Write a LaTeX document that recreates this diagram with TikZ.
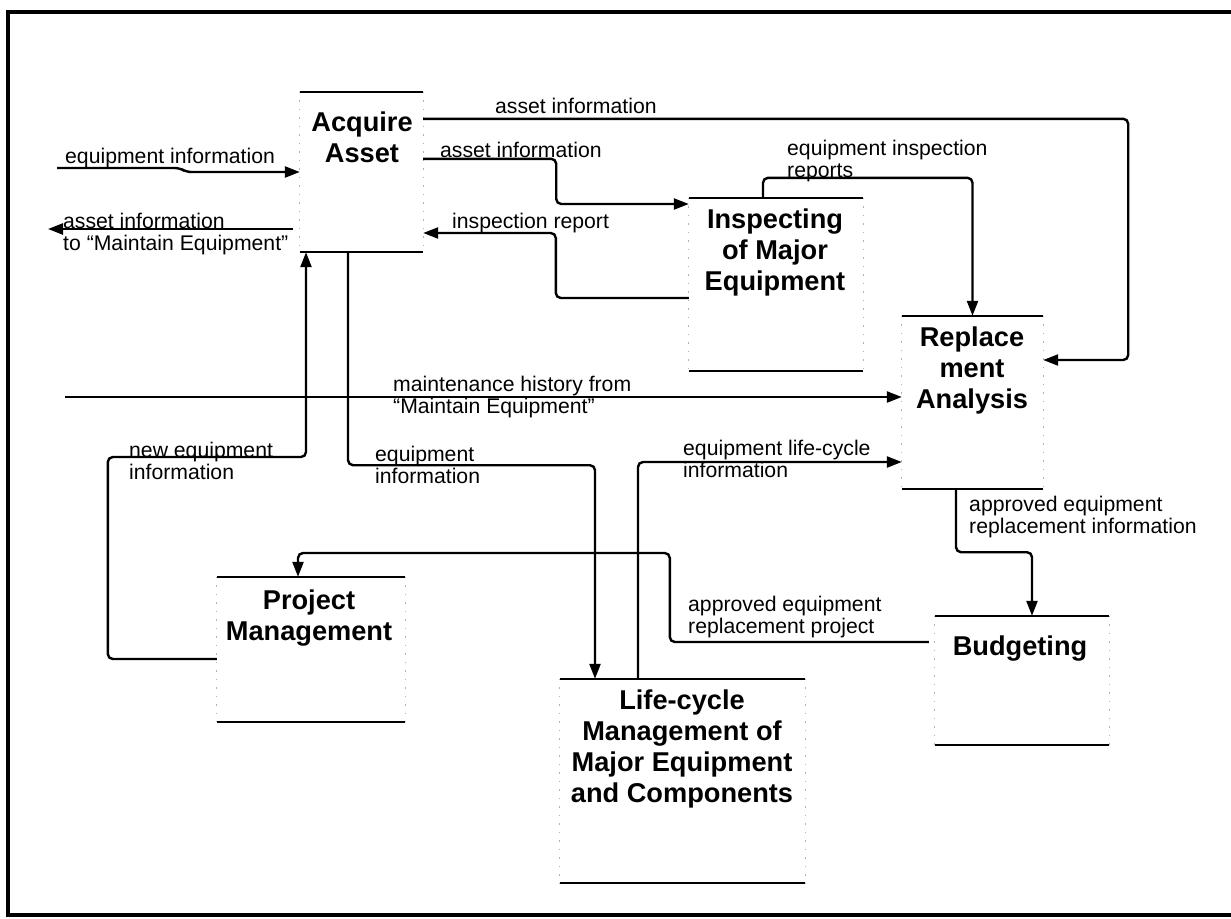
\documentclass[tikz,border=0pt]{standalone}
\usepackage{fontspec}
\setmainfont{Liberation Sans}
\usetikzlibrary{arrows.meta}

\begin{document}
\begin{tikzpicture}[x=1pt,y=-1pt,
	flow/.style={line width=2.4pt,rounded corners=5pt,-{Triangle[length=15pt,width=11pt]}},
	proc/.style={rectangle,inner sep=0pt},
	rim/.style={line width=1.6pt},
	side/.style={line width=1.2pt,dash pattern=on 1.5pt off 7pt,gray!60},
	title/.style={anchor=base,align=center,inner sep=0pt,font=\fontsize{27.2}{30.7}\selectfont\bfseries},
	lab/.style={anchor=base west,align=left,inner sep=0pt,font=\fontsize{21.2}{22}\selectfont}]
	\useasboundingbox (0,0) rectangle (1231,918);
	\draw[line width=3.5pt] (1231,12) -- (8,12) -- (8,915) -- (1231,915);

	\node[proc,minimum width=123pt,minimum height=160pt] (acq) at (361.5,172) {};
	\node[proc,minimum width=174pt,minimum height=173pt] (insp) at (776,284.5) {};
	\node[proc,minimum width=141pt,minimum height=173pt] (rep) at (972.5,402.5) {};
	\node[proc,minimum width=174pt,minimum height=129pt] (bud) at (1022,680.5) {};
	\node[proc,minimum width=188pt,minimum height=145pt] (pm) at (311,649.5) {};
	\node[proc,minimum width=245pt,minimum height=204pt] (lcm) at (682.5,781) {};
	\foreach \b in {acq,insp,rep,bud,pm,lcm}{
		\draw[rim] (\b.north west) -- (\b.north east) (\b.south west) -- (\b.south east);
		\draw[side] (\b.north west) -- (\b.south west) (\b.north east) -- (\b.south east);
	}

	\node[title] (acqt) at (362,162) {Acquire\\Asset};
	\node[title] (inspt) at (775,290) {Inspecting\\of Major\\Equipment};
	\node[title] (rept) at (972,408) {Replace\\ment\\Analysis};
	\node[title] (budt) at (1020,655) {Budgeting};
	\node[title] (pmt) at (309,640) {Project\\Management};
	\node[title] (lcmt) at (682,802) {Life-cycle\\Management of\\Major Equipment\\and Components};

	\coordinate (eqin) at (57,168);
	\coordinate (asout) at (48,229);
	\coordinate (mhin) at (65,397);

	\draw[flow] (eqin) -- (180,168) -- (186,172) -- (acq.west);
	\draw[flow] ([shift={(-7pt,-57pt)}]acq.west) -- (asout);
	\draw[flow] ([yshift=-27pt]acq.north east) -- ++(705,0) |- ([yshift=42.5pt]rep.east);
	\draw[flow] ([yshift=-67pt]acq.north east) -- ++(133,0) |- ([yshift=80.5pt]insp.west);
	\draw[flow] ([yshift=-13.5pt]insp.west) -- ++(-133,0) |- ([yshift=-61pt]acq.east);
	\draw[flow] ([xshift=-13pt]insp.north) -- ++(0,-20) -| (rep.north);
	\draw[flow] (mhin) -- ([yshift=5.5pt]rep.west);
	\draw[flow] ([yshift=-9.5pt]pm.west) -| ++(-109,-202) -| ([xshift=-55.5pt]acq.south);
	\draw[flow] ([xshift=-13.5pt]acq.south) -- ++(0,213) -| ([xshift=-87.5pt]lcm.north);
	\draw[flow] ([xshift=-44.5pt]lcm.north) |- ([yshift=-59.5pt]rep.west);
	\draw[flow] ([shift={(-6pt,38.5pt)}]bud.west) -| ++(-259,-89) -| ([xshift=-13pt]pm.north);
	\draw[flow] ([xshift=-16.5pt]rep.south) -- ++(0,63) -| ([xshift=10pt]bud.north);

	\node[lab] (l1) at (65,163) {equipment information};
	\node[lab] (l2) at (63,250) {asset information\\to “Maintain Equipment”};
	\node[lab] (l3) at (495,113) {asset information};
	\node[lab] (l4) at (440,157) {asset information};
	\node[lab] (l5) at (452,228) {inspection report};
	\node[lab] (l6) at (787,177) {equipment inspection\\reports};
	\node[lab] (l7) at (393,413) {maintenance history from\\“Maintain Equipment”};
	\node[lab] (l8) at (129,479) {new equipment\\information};
	\node[lab] (l9) at (375,483) {equipment\\information};
	\node[lab] (l10) at (683,477) {equipment life-cycle\\information};
	\node[lab] (l11) at (688,633) {approved equipment\\replacement project};
	\node[lab] (l12) at (969,533) {approved equipment\\replacement information};
\end{tikzpicture}
\end{document}
